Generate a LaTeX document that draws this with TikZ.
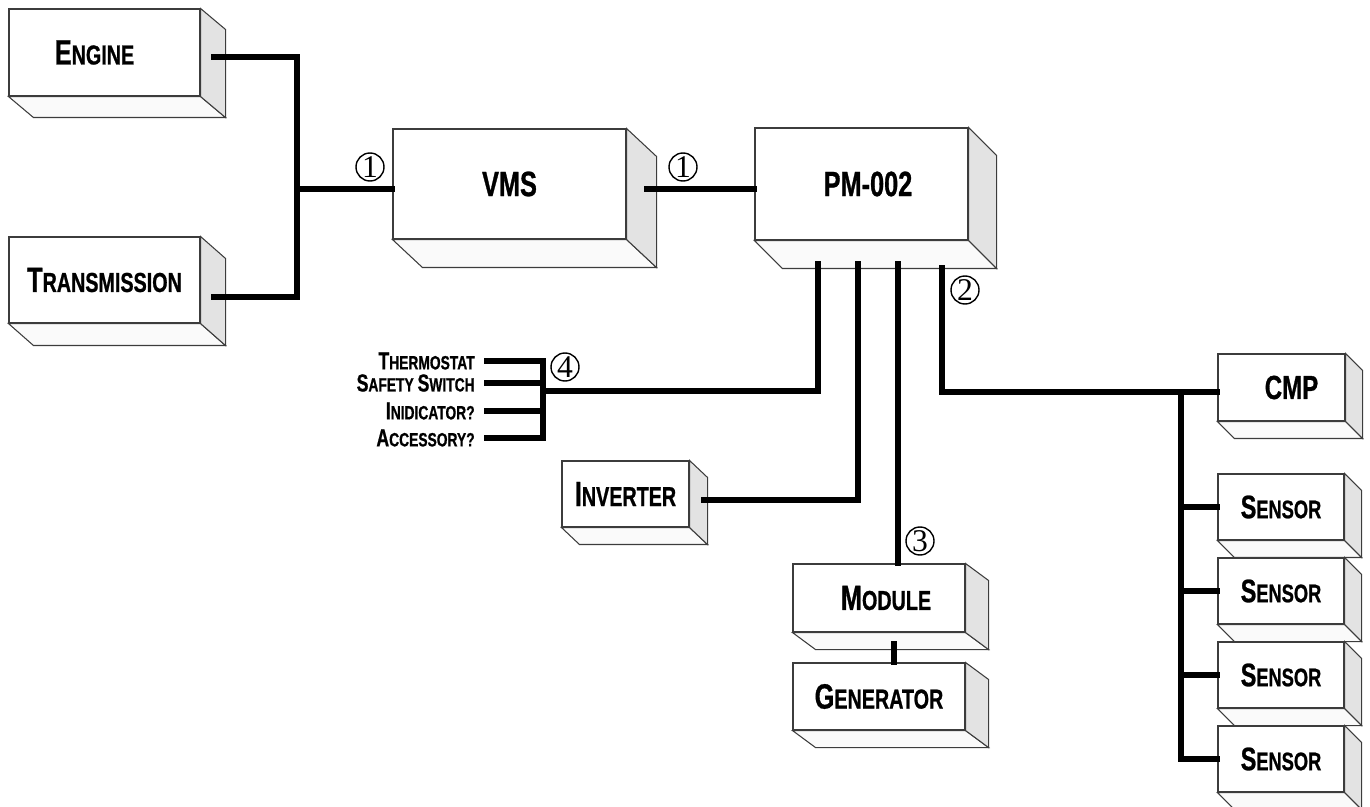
\documentclass[tikz,border=0pt]{standalone}
\usepackage{fontspec}
\setmainfont{Liberation Sans}
\newfontfamily\blockfont[FakeStretch=0.72, BoldFeatures={FakeBold=0.8}]{Liberation Sans}
\newfontfamily\tagfont{Liberation Serif}
\usetikzlibrary{positioning}
\usepackage{xcolor}
\definecolor{sidegray}{RGB}{227,227,227}
\definecolor{basegray}{RGB}{250,250,250}
\definecolor{edgegray}{RGB}{60,60,60}
\newlength{\unitpx}
\setlength{\unitpx}{0.02cm}
\newcommand{\smcap}[3][20]{{\fontsize{#1}{#1}\selectfont #2}{\fontsize{\fpeval{0.78*#1}}{#1}\selectfont #3}}
\newcommand{\depthfaces}[3]{%
  \filldraw[face, fill=basegray] (#1.south west) -- ++(#2,#3) -- ([shift={(#2,#3)}]#1.south east) -- (#1.south east) -- cycle;
  \filldraw[face, fill=sidegray] (#1.north east) -- ++(#2,#3) -- ([shift={(#2,#3)}]#1.south east) -- (#1.south east) -- cycle;}

\begin{document}
\begin{tikzpicture}[
      x=\unitpx, y=-\unitpx,
      block/.style={rectangle, draw=edgegray, line width=0.6pt, fill=white,
                  inner sep=0pt, align=center, font=\blockfont\bfseries},
      face/.style={draw=edgegray, line width=0.6pt},
      wire/.style={line width=2.9pt, line cap=rect, line join=miter},
      numtag/.style={circle, draw, line width=0.8pt, inner sep=0pt,
                  minimum size=28\unitpx, font=\tagfont\fontsize{18}{18}\selectfont},
      thlabel/.style={anchor=east, inner sep=0pt, font=\blockfont\bfseries}
    ]
    \useasboundingbox (0,0) rectangle (1370,807);

    \node[block, minimum width=191\unitpx, minimum height=87\unitpx] (engine) at (104.5,52.5) {\smcap{E}{NGINE}\hspace*{20\unitpx}};
    \node[block, minimum width=191\unitpx, minimum height=86\unitpx] (trans) at (104.5,280) {\smcap{T}{RANSMISSION}};
    \node[block, minimum width=233\unitpx, minimum height=110\unitpx] (vms) at (509.5,184) {\fontsize{20}{20}\selectfont VMS};
    \node[block, minimum width=213\unitpx, minimum height=112\unitpx] (pm) at (861.5,184) {\hspace*{13\unitpx}\fontsize{20}{20}\selectfont PM-002};
    \node[block, minimum width=127\unitpx, minimum height=66\unitpx] (inverter) at (625.5,494) {\smcap{I}{NVERTER}};
    \node[block, minimum width=172\unitpx, minimum height=68\unitpx] (module) at (879,598) {\hspace*{14\unitpx}\smcap{M}{ODULE}};
    \node[block, minimum width=172\unitpx, minimum height=67\unitpx] (generator) at (879,696.5) {\smcap{G}{ENERATOR}};
    \node[block, minimum width=127\unitpx, minimum height=67\unitpx] (cmp) at (1281.5,387.5) {\hspace*{20\unitpx}\fontsize{19}{19}\selectfont CMP};
    \foreach \i/\y in {1/507,2/591,3/675,4/759}
      \node[block, minimum width=126\unitpx, minimum height=66\unitpx] (sensor\i) at (1281,\y) {\smcap[18.5]{S}{ENSOR}};

    \depthfaces{engine}{25}{21}
    \depthfaces{trans}{25}{22}
    \depthfaces{vms}{30}{28}
    \depthfaces{pm}{28}{28}
    \depthfaces{inverter}{18}{17}
    \depthfaces{module}{23}{17}
    \depthfaces{generator}{23}{17}
    \depthfaces{cmp}{17}{17}
    \foreach \i in {1,...,4}{
      \depthfaces{sensor\i}{17}{17}
    }

    \node[thlabel] (th1) at (475,361) {\smcap[14]{T}{HERMOSTAT}};
    \node[thlabel] (th2) at (475,383) {\smcap[14]{S}{AFETY }\smcap[14]{S}{WITCH}};
    \node[thlabel] (th3) at (475,411) {\smcap[14]{I}{NIDICATOR?}};
    \node[thlabel] (th4) at (475,438) {\smcap[14]{A}{CCESSORY?}};

    \coordinate (joinL) at (297,189);
    \coordinate (thbus) at (543,391);
    \coordinate (sbus) at (1181,392);
    \coordinate (tapA) at ([shift={(-43.5,23)}]pm.south);
    \coordinate (tapB) at ([shift={(-3.5,23)}]pm.south);
    \coordinate (tapC) at ([shift={(36.5,23)}]pm.south);
    \coordinate (tapD) at ([shift={(80.5,27)}]pm.south);

    \draw[wire] ([shift={(13,4.5)}]engine.east) -| (joinL);
    \draw[wire] ([shift={(13,17)}]trans.east) -| (joinL);
    \draw[wire] (joinL) -- (joinL -| vms.west);
    \draw[wire] ([shift={(20,5)}]vms.east) -- ([shift={(0,5)}]pm.west);

    \foreach \i in {1,...,4}
      \draw[wire] ([xshift=12\unitpx]th\i.east) -- ([xshift=68\unitpx]th\i.east);
    \draw[wire] ([xshift=68\unitpx]th1.east) -- ([xshift=68\unitpx]th4.east);
    \draw[wire] (tapA) |- (thbus);
    \draw[wire] (tapB) |- ([shift={(14,6)}]inverter.east);
    \draw[wire] (tapC) -- (tapC |- module.north);
    \draw[wire] (tapD) |- ([shift={(0,4.5)}]cmp.west);
    \draw[wire] (sbus) |- (sensor4.west);
    \foreach \i in {1,2,3}
      \draw[wire] (sensor\i.west) -- (sensor\i.west -| sbus);
    \draw[wire] ([shift={(15,0)}]generator.north) -- ([shift={(15,11)}]module.south);

    \node[numtag] (tagA) at (370,167) {1};
    \node[numtag] (tagB) at (683,167) {1};
    \node[numtag] (tagC) at (965,290) {2};
    \node[numtag] (tagD) at (920,541) {3};
    \node[numtag] (tagE) at (565,367) {4};
  \end{tikzpicture}
\end{document}
